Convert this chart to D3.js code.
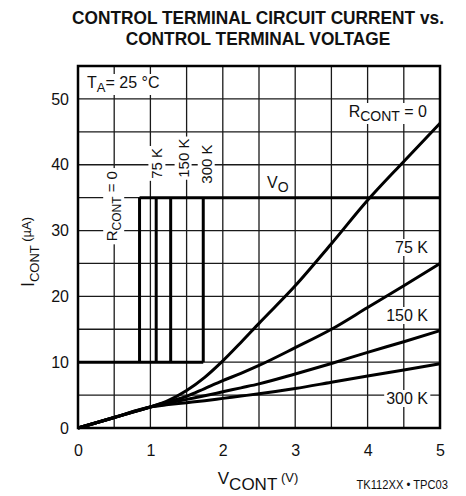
<!DOCTYPE html>
<html>
<head>
<meta charset="utf-8">
<script src="https://cdn.jsdelivr.net/npm/d3@7"></script>
<style>
  body { margin: 0; background: #fff; }
  text { font-family: 'Liberation Sans Narrow', 'Arial Narrow', 'Liberation Sans', sans-serif; fill: #111; }
</style>
</head>
<body>
<svg id="chart" width="466" height="496"></svg>
<script>
// Control terminal voltage sample points (V)
const vCont = [0, 0.5, 1, 1.25, 1.5, 1.75, 2, 2.25, 2.5, 3, 3.5, 4, 4.5, 5];
// Control terminal current (µA) for each series resistance
const iR0   = [0, 1.6, 3.2, 4.2, 5.7, 7.7, 10.2, 13.0, 15.9, 21.6, 28.0, 34.6, 40.5, 46.3];
const iR75  = [0, 1.6, 3.2, 4.0, 4.8, 6.0, 7.2, 8.3, 9.5, 12.2, 15.0, 18.3, 21.6, 25.0];
const iR150 = [0, 1.6, 3.2, 3.8, 4.35, 4.9, 5.5, 6.1, 6.7, 8.2, 9.8, 11.5, 13.1, 14.8];
const iR300 = [0, 1.6, 3.2, 3.55, 3.85, 4.15, 4.5, 4.85, 5.2, 6.0, 6.95, 7.9, 8.8, 9.75];

// Output turn-on voltage (V) for R_CONT = 0, 75 K, 150 K, 300 K
const voOnV = [0.85, 1.08, 1.28, 1.73];
// V_O trace levels on the current scale (µA)
const voLevels = [10, 35];

// Axis tick labels
const vTicks = [0, 1, 2, 3, 4, 5];
const iTicks = [0, 10, 20, 30, 40, 50];

const svg = d3.select('#chart');
const x = d3.scaleLinear().domain([0, 5]).range([78, 440]);
const y = d3.scaleLinear().domain([0, 55]).range([428, 66]);

// Title, condensed horizontally
const title = svg.append('g').attr('transform', 'translate(258,0) scale(0.91,1)')
  .append('text').attr('text-anchor', 'middle')
  .style('font-weight', 'bold').style('font-size', '19px');
title.append('tspan').attr('x', 0).attr('y', 24).text('CONTROL TERMINAL CIRCUIT CURRENT vs.');
title.append('tspan').attr('x', 0).attr('y', 45).text('CONTROL TERMINAL VOLTAGE');

// Grid: every 0.5 V and every 5 µA
const grid = svg.append('g').attr('stroke', '#1a1a1a').attr('stroke-width', 1.3);
grid.selectAll('line.v').data(d3.range(0.5, 5, 0.5)).join('line')
  .attr('x1', d => x(d)).attr('x2', d => x(d)).attr('y1', y(0)).attr('y2', y(55));
grid.selectAll('line.h').data(d3.range(5, 55, 5)).join('line')
  .attr('x1', x(0)).attr('x2', x(5)).attr('y1', d => y(d)).attr('y2', d => y(d));

// Axes (tick labels only; the frame is drawn separately)
const xAxis = svg.append('g').attr('transform', `translate(0,${y(0)})`)
  .call(d3.axisBottom(x).tickValues(vTicks).tickSize(0).tickPadding(17).tickFormat(d3.format('d')));
const yAxis = svg.append('g').attr('transform', `translate(${x(0)},0)`)
  .call(d3.axisLeft(y).tickValues(iTicks).tickSize(0).tickPadding(9).tickFormat(d3.format('d')));
[xAxis, yAxis].forEach(a => {
  a.select('.domain').remove();
  a.selectAll('text').style('font-size', '16px').attr('fill', '#111');
});

// Labels with white backing that break the grid lines underneath
const labels = svg.append('g');
function addLabel(parts, px, py, opts = {}) {
  const g = labels.append('g').attr('transform', `translate(${px},${py})` + (opts.rotate ? ' rotate(-90)' : ''));
  const t = g.append('text').attr('text-anchor', opts.anchor || 'start').style('font-size', (opts.size || 16) + 'px');
  let shift = 0;
  parts.forEach(p => {
    const s = t.append('tspan').text(p.t);
    const target = p.sub ? 4 : 0;
    if (target !== shift) { s.attr('dy', target - shift); shift = target; }
    if (p.sub) s.style('font-size', (opts.subSize || 12) + 'px');
  });
  const b = t.node().getBBox();
  const pad = opts.pad || 1;
  g.insert('rect', 'text').attr('x', b.x - pad).attr('y', b.y).attr('width', b.width + 2 * pad).attr('height', b.height)
    .attr('fill', '#fff');
  return g;
}

addLabel([{t: 'T'}, {t: 'A', sub: true}, {t: '= 25 °C'}], 87, 88, {size: 16, subSize: 13, pad: 2});
addLabel([{t: 'R'}, {t: 'CONT', sub: true}, {t: ' = 0'}], x(0.5) + 3, y(33.7), {rotate: true, anchor: 'middle', size: 15, pad: 3});
addLabel([{t: '75 K'}], x(1) + 12, y(40.2), {rotate: true, anchor: 'middle', size: 15, pad: 2});
addLabel([{t: '150 K'}], x(1.5) + 2, y(41.0), {rotate: true, anchor: 'middle', size: 15, pad: 2});
addLabel([{t: '300 K'}], x(1.75) + 7, y(40.1), {rotate: true, anchor: 'middle', size: 15, pad: 2});
addLabel([{t: 'V'}, {t: 'O', sub: true}], 267, 188, {size: 16, subSize: 14, pad: 1});
addLabel([{t: 'R'}, {t: 'CONT', sub: true}, {t: ' = 0'}], 427, 117, {anchor: 'end', size: 16, subSize: 14, pad: 3});
addLabel([{t: '75 K'}], 428, 253, {anchor: 'end', size: 16, pad: 2});
addLabel([{t: '150 K'}], 428, 321, {anchor: 'end', size: 16, pad: 2});
addLabel([{t: '300 K'}], 428, 404, {anchor: 'end', size: 16, pad: 2});

// Frame
svg.append('rect').attr('x', x(0)).attr('y', y(55)).attr('width', x(5) - x(0)).attr('height', y(0) - y(55))
  .attr('fill', 'none').attr('stroke', '#000').attr('stroke-width', 2.5);

// Current curves
const curveGen = d3.line().x(d => x(d[0])).y(d => y(d[1])).curve(d3.curveMonotoneX);
const series = [iR0, iR75, iR150, iR300];
svg.append('g').selectAll('path').data(series).join('path')
  .attr('d', s => curveGen(vCont.map((v, i) => [v, s[i]])))
  .attr('fill', 'none').attr('stroke', '#000').attr('stroke-width', 3).attr('stroke-linejoin', 'round');

// V_O trace: low level, switching edges, high level
const vo = svg.append('g').attr('stroke', '#000').attr('stroke-width', 3).attr('fill', 'none');
vo.append('line').attr('x1', x(0)).attr('x2', x(d3.max(voOnV))).attr('y1', y(voLevels[0])).attr('y2', y(voLevels[0]));
vo.append('line').attr('x1', x(d3.min(voOnV))).attr('x2', x(5)).attr('y1', y(voLevels[1])).attr('y2', y(voLevels[1]));
vo.selectAll('line.edge').data(voOnV).join('line').attr('class', 'edge')
  .attr('x1', d => x(d)).attr('x2', d => x(d)).attr('y1', y(voLevels[0])).attr('y2', y(voLevels[1]));

// Axis titles
const yt = svg.append('text').attr('transform', 'translate(34,252) rotate(-90)').attr('text-anchor', 'middle')
  .style('font-size', '18px');
yt.append('tspan').text('I');
yt.append('tspan').attr('dy', 5).style('font-size', '13px').text('CONT');
yt.append('tspan').attr('dy', -8).style('font-size', '13px').text(' (µA)');

const xt = svg.append('text').attr('x', 258).attr('y', 484).attr('text-anchor', 'middle')
  .style('font-size', '17px');
xt.append('tspan').text('V');
xt.append('tspan').attr('dy', 6).text('CONT');
xt.append('tspan').attr('dy', -8).style('font-size', '13px').text(' (V)');

svg.append('g').attr('transform', 'translate(448,489) scale(0.93,1)')
  .append('text').attr('text-anchor', 'end').style('font-size', '12px')
  .text('TK112XX • TPC03');
</script>
</body>
</html>
